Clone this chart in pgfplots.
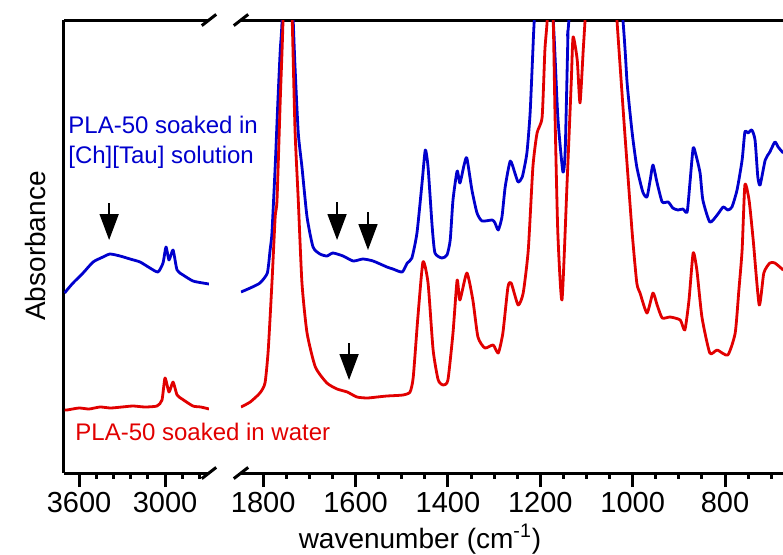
\documentclass[border=0pt]{standalone}
\usepackage{fontspec}
\setmainfont{Liberation Sans}
\usepackage{pgfplots}
\pgfplotsset{compat=1.18}
\usetikzlibrary{arrows.meta,calc}
\definecolor{cblue}{RGB}{0,0,205}
\definecolor{cred}{RGB}{225,0,0}
\newcommand\tl[1]{\mbox{\fontsize{14.5pt}{17pt}\selectfont #1}}

% spectra, y in pixel units above the bottom axis line
\pgfplotstableread{
w v
3700 180
3684 183
3642 190
3572 200
3502 211
3433 216
3384 219
3314 217
3244 214
3174 211
3105 205
3049 201
3014 210
2993 226
2972 213
2944 223
2916 203
2874 198
2805 192
2735 190
2693 189
}\blueleft
\pgfplotstableread{
w v
3700 63
3684 63
3600 65
3530 64
3454 66
3380 65
3300 66
3223 67
3140 66
3056 67
3021 73
3000 95
2972 81
2944 91
2916 78
2881 74
2805 67
2750 66
2693 64
}\redleft
\pgfplotstableread{
w v
1848 181
1828 185
1807 190
1791 200
1785 223
1781 240
1774 306
1768 373
1763 423
1759 453
1747 600
1735 453
1731 406
1724 340
1716 306
1705 256
1692 226
1677 219
1662 217
1649 220
1627 217
1605 212
1584 214
1562 212
1532 206
1519 204
1499 201
1488 210
1478 215
1467 240
1456 290
1449 323
1443 306
1434 246
1428 220
1413 215
1402 218
1395 233
1389 273
1380 302
1374 290
1365 308
1359 315
1348 283
1337 260
1326 252
1304 253
1298 250
1291 243
1283 256
1276 286
1265 312
1255 300
1248 291
1239 296
1229 320
1222 360
1216 423
1213 453
1195 600
1172 453
1162 356
1151 301
1146 323
1140 440
1138 453
1080 800
1021 453
1012 390
1001 340
991 306
978 281
969 276
962 293
956 308
947 290
936 271
923 271
913 265
902 263
891 264
882 261
876 290
869 325
863 318
854 300
848 273
833 251
817 258
804 266
794 263
785 266
774 283
763 313
757 341
750 340
742 343
735 333
729 296
724 288
713 313
703 321
692 331
685 326
674 320
}\blueright
\pgfplotstableread{
w v
1848 66
1828 71
1807 80
1796 90
1789 123
1781 190
1774 256
1770 273
1763 373
1757 453
1747 650
1737 453
1731 343
1724 273
1716 190
1705 140
1687 106
1662 90
1640 84
1618 81
1597 76
1575 75
1553 76
1532 77
1497 78
1482 81
1475 96
1465 156
1454 211
1443 190
1432 123
1421 93
1410 88
1400 93
1389 140
1380 193
1374 173
1359 200
1346 173
1335 136
1320 125
1302 128
1291 120
1281 140
1270 186
1263 190
1248 168
1237 180
1226 223
1216 306
1207 340
1196 356
1190 423
1185 453
1179 520
1172 453
1168 356
1162 240
1153 173
1142 290
1133 390
1129 436
1120 413
1114 370
1107 423
1103 453
1070 700
1034 453
1027 406
1017 340
1001 240
991 190
984 180
969 160
956 180
947 168
936 155
919 156
897 153
887 143
878 173
869 220
861 203
850 156
833 120
817 123
794 118
778 140
770 183
763 223
757 288
748 273
739 233
726 168
716 200
703 210
692 210
674 203
}\redright

\tikzset{arr/.style={-{Triangle[length=13pt,width=9.5pt]}, line width=0.8pt, black}}

\begin{document}
\begin{tikzpicture}
\useasboundingbox (0pt,0pt) rectangle (391.5pt,277pt);
\pgfplotsset{
  brk/.style={
    scale only axis, anchor=south west, height=226.5pt,
    ymin=0, ymax=453, x dir=reverse, ytick=\empty,
    axis x line*=box,
    axis line style={-, line width=1.5pt},
  },
  bl/.style={draw=cblue, line width=1.4pt, line join=round, smooth, tension=0.35},
  rd/.style={draw=cred, line width=1.4pt, line join=round, smooth, tension=0.35},
}

% left part
\begin{axis}[brk, at={(32pt,40.5pt)}, width=72.5pt,
  xmin=2693, xmax=3705, axis y line*=left,
  tick align=outside, xtick pos=left,
  major tick length=7pt, minor tick length=2.8pt,
  every tick/.style={black, line width=1.5pt},
  xtick={3600,3000}, xticklabels={\tl{3600},\tl{3000}},
  xticklabel style={inner sep=2.5pt},
  minor xtick={3480,3360,3240,3120,2880,2760}]
\addplot[bl] table[x=w,y=v] {\blueleft};
\addplot[rd] table[x=w,y=v] {\redleft};
\draw[arr] (axis cs:3390,270) -- (axis cs:3390,233);
\end{axis}

% right part
\begin{axis}[brk, at={(120.5pt,40.5pt)}, width=271pt,
  xmin=674.5, xmax=1848, axis y line=none,
  tick align=outside, xtick pos=left,
  major tick length=7pt, minor tick length=2.8pt,
  every tick/.style={black, line width=1.5pt},
  xtick={1800,1600,1400,1200,1000,800},
  xticklabels={\tl{1800},\tl{1600},\tl{1400},\tl{1200},\tl{1000},\tl{800}},
  xticklabel style={inner sep=2.5pt},
  minor xtick={1750,1700,1650,1550,1500,1450,1350,1300,1250,1150,1100,1050,950,900,850,750,700}]
\addplot[bl] table[x=w,y=v] {\blueright};
\addplot[rd] table[x=w,y=v] {\redright};
\draw[arr] (axis cs:1640,271) -- (axis cs:1640,233);
\draw[arr] (axis cs:1573,261) -- (axis cs:1573,223);
\draw[arr] (axis cs:1614,130) -- (axis cs:1614,93);
\end{axis}

% axis break marks
\foreach \xx in {104.5pt,120.5pt}{
  \foreach \yy in {40.5pt,267pt}{
    \draw[line width=1.5pt] ($(\xx,\yy)+(-3.6pt,-2.8pt)$) -- ++(7.2pt,5.6pt);
  }
}

% labels
\node[rotate=90, font=\fontsize{14pt}{16pt}\selectfont] at (17.5pt,154pt) {Absorbance};
\node[anchor=base, font=\fontsize{14pt}{16pt}\selectfont] at (210pt,3pt) {wavenumber (cm\textsuperscript{-1})};
\node[anchor=west, align=left, inner sep=0pt, text=cblue,
  font=\fontsize{12pt}{15pt}\selectfont] at (34pt,206pt) {PLA-50 soaked in\\{}[Ch][Tau] solution};
\node[anchor=west, inner sep=0pt, text=cred,
  font=\fontsize{12pt}{15pt}\selectfont] at (37.5pt,61pt) {PLA-50 soaked in water};
\end{tikzpicture}
\end{document}
